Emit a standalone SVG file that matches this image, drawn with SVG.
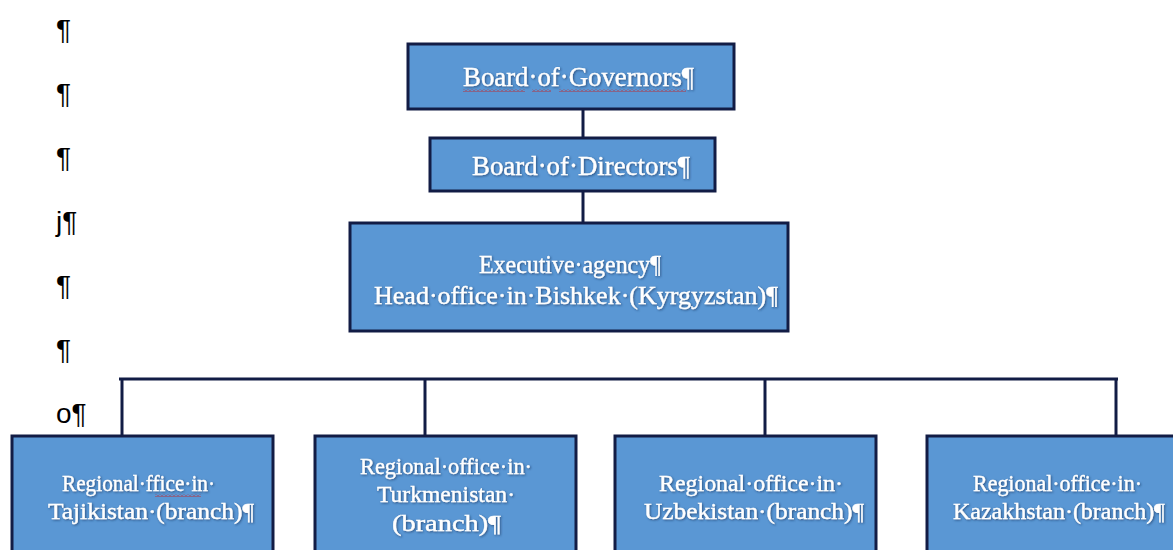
<svg xmlns="http://www.w3.org/2000/svg" width="1173" height="550" viewBox="0 0 1173 550">
  <defs>
    <style>
      .box { fill: #5a97d4; stroke: #121c45; stroke-width: 3; }
      .lbl { font-family: "Liberation Serif", "DejaVu Serif", serif; fill: #ffffff; stroke: #ffffff; stroke-width: 0.35; filter: url(#glow); }
      .big { font-size: 28px; }
      .mid { font-size: 25px; }
      .sm { font-size: 23px; }
      .mark { font-family: "Liberation Sans", Arial, sans-serif; font-size: 28px; fill: #000000; }
      .conn { stroke: #121c45; stroke-width: 3; fill: none; }
      .wavy { fill: url(#squiggle); }
    </style>
    <filter id="glow" x="-10%" y="-40%" width="120%" height="180%">
      <feGaussianBlur in="SourceAlpha" stdDeviation="1.2" result="b"/>
      <feFlood flood-color="#1d3a66" flood-opacity="0.75"/>
      <feComposite in2="b" operator="in" result="s"/>
      <feOffset in="s" dx="0.5" dy="0.8" result="so"/>
      <feMerge>
        <feMergeNode in="so"/>
        <feMergeNode in="SourceGraphic"/>
      </feMerge>
    </filter>
    <pattern id="squiggle" width="4" height="3" patternUnits="userSpaceOnUse">
      <polyline points="0,2.5 2,0.5 4,2.5" fill="none" stroke="#c0282d" stroke-width="0.9"/>
    </pattern>
  </defs>

  <rect x="0" y="0" width="1173" height="550" fill="#ffffff"/>

  <g id="marks">
    <text class="mark" x="56" y="39">¶</text>
    <text class="mark" x="56" y="103">¶</text>
    <text class="mark" x="56" y="167">¶</text>
    <text class="mark" x="56" y="231">j¶</text>
    <text class="mark" x="56" y="295">¶</text>
    <text class="mark" x="56" y="359">¶</text>
    <text class="mark" x="56" y="423">o¶</text>
  </g>

  <g id="connectors">
    <line class="conn" x1="583" y1="109" x2="583" y2="138"/>
    <line class="conn" x1="583" y1="191" x2="583" y2="223"/>
    <line class="conn" x1="119" y1="379" x2="1118" y2="379"/>
    <line class="conn" x1="122" y1="379" x2="122" y2="436"/>
    <line class="conn" x1="425" y1="379" x2="425" y2="436"/>
    <line class="conn" x1="765" y1="379" x2="765" y2="436"/>
    <line class="conn" x1="1116" y1="379" x2="1116" y2="436"/>
  </g>

  <g id="board-of-governors">
    <rect class="box" x="408" y="44" width="326" height="65"/>
    <rect class="wavy" x="463" y="89" width="62" height="3"/>
    <rect class="wavy" x="532" y="89" width="19" height="3"/>
    <rect class="wavy" x="559" y="89" width="127" height="3"/>
    <text class="lbl big" x="463" y="86" textLength="231" lengthAdjust="spacingAndGlyphs">Board·of·Governors¶</text>
  </g>

  <g id="board-of-directors">
    <rect class="box" x="430" y="138" width="285" height="53"/>
    <text class="lbl big" x="472" y="175" textLength="218" lengthAdjust="spacingAndGlyphs">Board·of·Directors¶</text>
  </g>

  <g id="executive-agency">
    <rect class="box" x="350" y="223" width="438" height="108"/>
    <text class="lbl mid" x="479" y="273" textLength="182" lengthAdjust="spacingAndGlyphs">Executive·agency¶</text>
    <text class="lbl mid" x="374" y="304" textLength="404" lengthAdjust="spacingAndGlyphs">Head·office·in·Bishkek·(Kyrgyzstan)¶</text>
  </g>

  <g id="office-tajikistan">
    <rect class="box" x="12" y="436" width="261" height="130"/>
    <rect class="wavy" x="155" y="494" width="46" height="3"/>
    <text class="lbl sm" x="62" y="491" textLength="153" lengthAdjust="spacingAndGlyphs">Regional·ffice·in·</text>
    <text class="lbl sm" x="48" y="519" textLength="206" lengthAdjust="spacingAndGlyphs">Tajikistan·(branch)¶</text>
  </g>

  <g id="office-turkmenistan">
    <rect class="box" x="315" y="436" width="261" height="130"/>
    <text class="lbl sm" x="360" y="474" textLength="172" lengthAdjust="spacingAndGlyphs">Regional·office·in·</text>
    <text class="lbl sm" x="377" y="502" textLength="138" lengthAdjust="spacingAndGlyphs">Turkmenistan·</text>
    <text class="lbl sm" x="392" y="531" textLength="109" lengthAdjust="spacingAndGlyphs">(branch)¶</text>
  </g>

  <g id="office-uzbekistan">
    <rect class="box" x="615" y="436" width="261" height="130"/>
    <text class="lbl sm" x="659" y="491" textLength="184" lengthAdjust="spacingAndGlyphs">Regional·office·in·</text>
    <text class="lbl sm" x="644" y="519" textLength="220" lengthAdjust="spacingAndGlyphs">Uzbekistan·(branch)¶</text>
  </g>

  <g id="office-kazakhstan">
    <rect class="box" x="927" y="436" width="261" height="130"/>
    <text class="lbl sm" x="973" y="491" textLength="169" lengthAdjust="spacingAndGlyphs">Regional·office·in·</text>
    <text class="lbl sm" x="953" y="519" textLength="212" lengthAdjust="spacingAndGlyphs">Kazakhstan·(branch)¶</text>
  </g>
</svg>
